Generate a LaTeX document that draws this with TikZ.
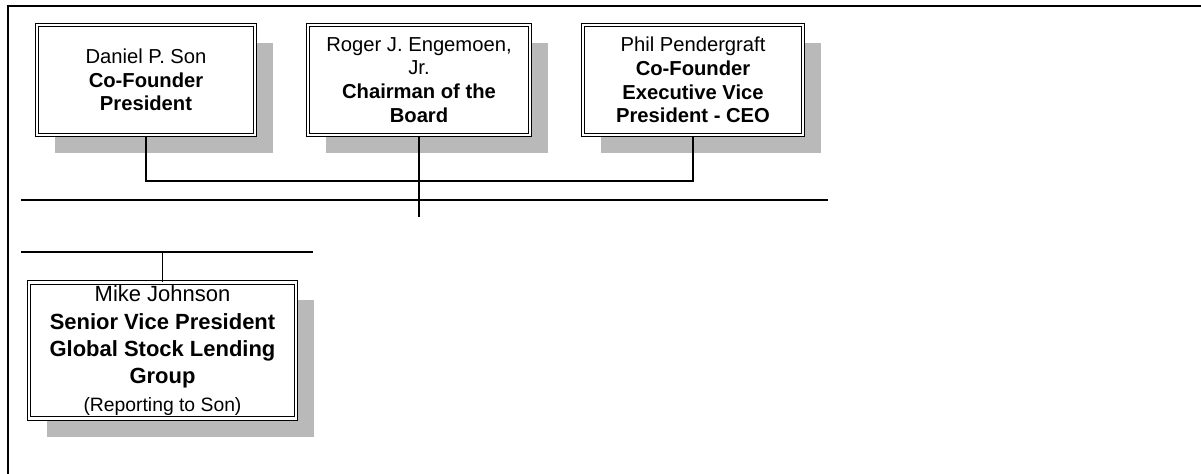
\documentclass[tikz,border=0pt]{standalone}
\usepackage{fontspec}
\setmainfont{Liberation Sans}
\usetikzlibrary{shadows}

\begin{document}
\begin{tikzpicture}[
    x=1cm,y=1cm,
    frame/.style={line width=0.9pt},
    link/.style={line width=0.7pt},
    person/.style={draw=black,line width=0.6pt,double=white,double distance=1.6pt,
                   fill=white,align=center,inner sep=2pt,
                   drop shadow={shadow xshift=0.36cm,shadow yshift=-0.36cm,
                                fill=gray!55,opacity=1}},
    topbox/.style={person,minimum width=4.4cm,minimum height=2.2cm,
                   font=\fontsize{11.5}{13.5}\selectfont},
    staffbox/.style={person,minimum width=5.34cm,minimum height=2.7cm,
                     font=\fontsize{12.5}{15.6}\selectfont}
]
    \useasboundingbox (0,0) rectangle (24.02,-9.48);

    % Open frame: only the top and the left edge are ruled.
    \draw[frame] (24.02,-0.12) -- (0.16,-0.12) -- (0.16,-9.48);

    % The three officers in the top row.
    \node[topbox,minimum width=4.36cm] (son) at (2.92,-1.60)
        {Daniel P. Son\\\textbf{Co-Founder}\\\textbf{President}};
    \node[topbox,minimum width=4.44cm] (engemoen) at (8.38,-1.60)
        {Roger J. Engemoen,\\Jr.\\\textbf{Chairman of the}\\\textbf{Board}};
    \node[topbox] (pendergraft) at (13.86,-1.60)
        {Phil Pendergraft\\\textbf{Co-Founder}\\\textbf{Executive Vice}\\\textbf{President - CEO}};

    % Second level, hanging from its own rule.
    \node[staffbox] (johnson) at (3.25,-7.01)
        {Mike Johnson\\\textbf{Senior Vice President}\\\textbf{Global Stock Lending}\\\textbf{Group}\\
         {\fontsize{11}{13}\selectfont (Reporting to Son)}};

    % Levels of the horizontal rules.
    \coordinate (busLevel)  at (0,-3.62);
    \coordinate (tailEnd)   at (8.38,-4.34);
    \coordinate (ruleTopW)  at (0.42,-4.00);
    \coordinate (ruleTopE)  at (16.56,-4.00);
    \coordinate (ruleLowW)  at (0.42,-5.04);
    \coordinate (ruleLowE)  at (6.26,-5.04);

    % Connectors between the boxes and the rules.
    \draw[link] (son.south) -- (son.south |- busLevel) -| (pendergraft.south);
    \draw[link] (engemoen.south) -- (engemoen.south |- tailEnd);
    \draw[link] (ruleTopW) -- (ruleTopE);
    \draw[link] (ruleLowW) -- (ruleLowE);
    \draw[link] (johnson.north) -- (johnson.north |- ruleLowW);
\end{tikzpicture}
\end{document}
